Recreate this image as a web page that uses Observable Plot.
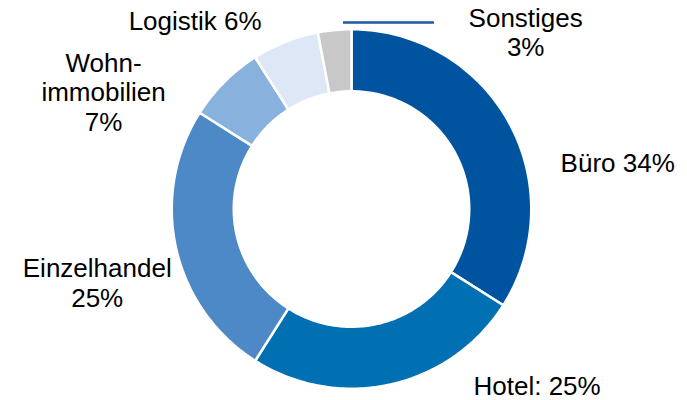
<!DOCTYPE html>
<html>
<head>
<meta charset="utf-8">
<script src="https://cdn.jsdelivr.net/npm/d3@7"></script>
<script src="https://cdn.jsdelivr.net/npm/@observablehq/plot@0.6"></script>
<style>
  html, body { margin: 0; padding: 0; background: #fff; }
  #chart svg { display: block; }
</style>
</head>
<body>
<div id="chart"></div>
<script>
// ---- data ----
const categories = ["Büro", "Hotel", "Einzelhandel", "Wohnimmobilien", "Logistik", "Sonstiges"];
const shares = [34, 25, 25, 7, 6, 3];
const labels = ["Büro 34%", "Hotel: 25%", "Einzelhandel\n25%", "Wohn-\nimmobilien\n7%", "Logistik 6%", "Sonstiges\n3%"];
const colors = ["#00549F", "#0070B2", "#4E89C7", "#89B1DD", "#DDE7F6", "#C8C8C8"];

// ---- layout (not data) ----
const W = 687, H = 400;
const cx = 351, cy = 208.5, unit = 179.75; // px per data unit (outer radius = 1)
const innerR = 0.655;
const labelR = 1.29;
const labelOffsets = [[63, 65], [135, -50], [-28, 23], [-84, 47], [-71, 27], [196, 54]];

// ---- build ring polygons from shares ----
const total = d3.sum(shares);
let acc = 0;
const slices = shares.map((v, i) => {
  const a0 = acc / total * 2 * Math.PI;
  acc += v;
  const a1 = acc / total * 2 * Math.PI;
  return {cat: categories[i], a0, a1, mid: (a0 + a1) / 2, label: labels[i], i};
});
const ringPts = [];
for (const s of slices) {
  const n = Math.max(4, Math.ceil((s.a1 - s.a0) / (Math.PI / 180)));
  for (let k = 0; k <= n; k++) {
    const t = s.a0 + (s.a1 - s.a0) * k / n;
    ringPts.push({cat: s.cat, x: Math.sin(t), y: Math.cos(t)});
  }
  for (let k = n; k >= 0; k--) {
    const t = s.a0 + (s.a1 - s.a0) * k / n;
    ringPts.push({cat: s.cat, x: innerR * Math.sin(t), y: innerR * Math.cos(t)});
  }
}
const labelPts = slices.map(s => ({
  x: labelR * Math.sin(s.mid), y: labelR * Math.cos(s.mid), label: s.label,
  dx: labelOffsets[s.i][0], dy: labelOffsets[s.i][1]
}));

// leader line next to the "Sonstiges" label
const sonst = slices[5];
const leader = [{y: 1.0376, x1: -0.0445, x2: 0.4618}];

const chart = Plot.plot({
  width: W, height: H,
  margin: 0,
  style: {background: "#fff", fontFamily: "'Liberation Sans', Arial, sans-serif"},
  x: {domain: [-cx / unit, (W - cx) / unit], axis: null},
  y: {domain: [-(H - cy) / unit, cy / unit], axis: null},
  color: {domain: categories, range: colors},
  marks: [
    Plot.line(ringPts, {x: "x", y: "y", z: "cat", fill: "cat", stroke: "white", strokeWidth: 2.5, curve: "linear-closed"}),
    Plot.ruleY(leader, {y: "y", x1: "x1", x2: "x2", stroke: "#1F5AA0", strokeWidth: 2.5}),
    ...labelPts.map(p => Plot.text([p], {
      x: "x", y: "y", text: "label", dx: p.dx, dy: p.dy,
      fontSize: 26, fill: "#000", textAnchor: "middle", lineAnchor: "middle", lineHeight: 1.13
    }))
  ]
});
document.getElementById("chart").appendChild(chart);
</script>
</body>
</html>
